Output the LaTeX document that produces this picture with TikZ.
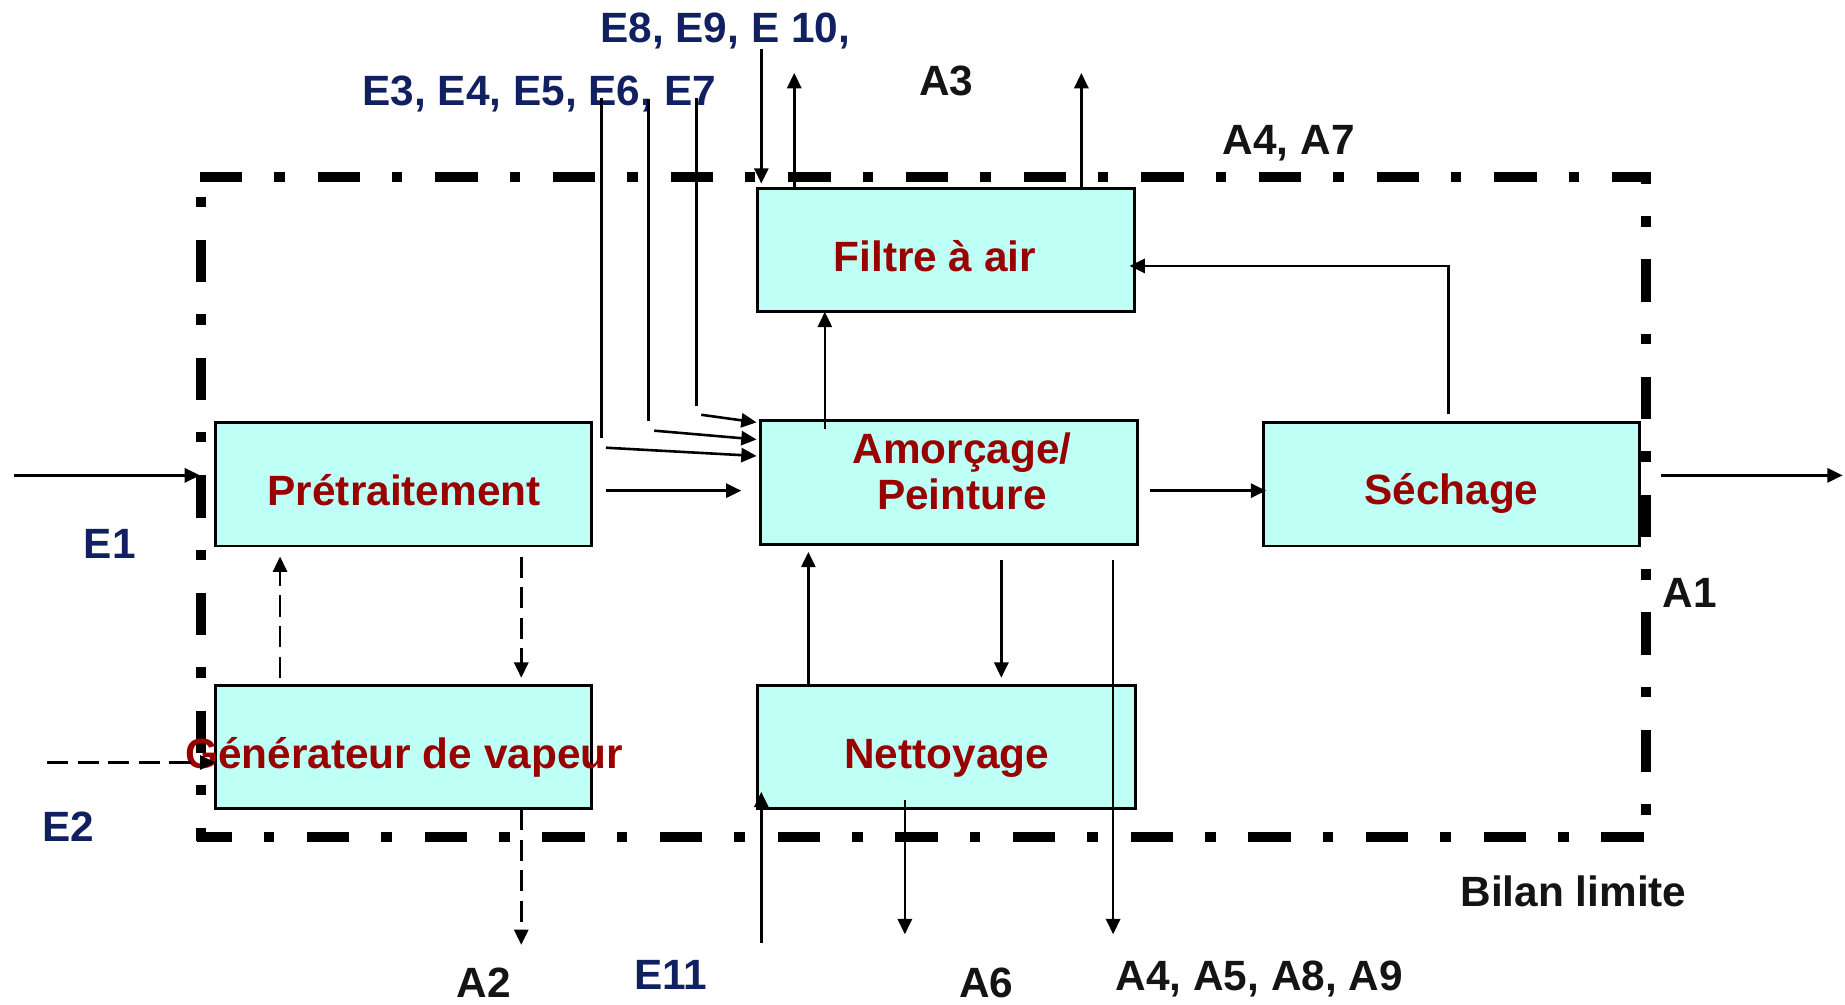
\documentclass[tikz,border=0pt]{standalone}
\usepackage{fontspec}
\setmainfont{Liberation Sans}
\usetikzlibrary{arrows.meta}
\definecolor{boxfill}{RGB}{190,255,246}
\definecolor{boxred}{RGB}{153,0,0}
\definecolor{inblue}{RGB}{16,32,96}
\definecolor{outblack}{RGB}{20,20,20}

\begin{document}
\begin{tikzpicture}[x=1pt,y=-1pt,
  font=\fontsize{36}{39.2}\selectfont\bfseries,
  box/.style={draw=black, line width=2.5pt, fill=boxfill, rectangle,
    minimum width=320pt, minimum height=105pt, inner sep=0pt, outer sep=0pt},
  boxtext/.style={text=boxred, anchor=base, inner sep=0pt, align=center},
  inlabel/.style={text=inblue, anchor=base west, inner sep=0pt},
  outlabel/.style={text=outblack, anchor=base west, inner sep=0pt},
  limit/.style={line width=8.5pt, dash pattern=on 36pt off 27pt on 9pt off 28pt},
  flowline/.style={line width=2.2pt},
  flow/.style={flowline, -{Triangle[length=13pt,width=12pt]}},
  dflow/.style={flow, dash pattern=on 18pt off 8pt},
]
\useasboundingbox (0,0) rectangle (1568,854);

% system boundary (dash-dot frame), one side at a time
\draw[limit, dash phase=97pt]   (167,150) -- (1403,150);
\draw[limit, dash phase=25.5pt] (1399,146) -- (1399,715);
\draw[limit, dash phase=6pt]    (167,711) -- (1403,711);
\draw[limit, dash phase=42pt]   (171,146) -- (171,715);

% process boxes
\node[box] (filtre) at (804,212.5) {};
\node[box] (pret) at (343,411.5) {};
\node[box, minimum width=321pt] (amor) at (806.5,410) {};
\node[box] (sech) at (1233.5,411.5) {};
\node[box] (gen) at (343,635) {};
\node[box, minimum width=321pt] (nett) at (804.5,635) {};

\node[boxtext] (filtre-t) at (794.5,231) {Filtre à air};
\node[boxtext] (pret-t) at (343.5,429.5) {Prétraitement};
\node[boxtext] (amor-t) at (817.5,433) {Amorçage/\\Peinture};
\node[boxtext] (sech-t) at (1233.5,429) {Séchage};
\node[boxtext] (gen-t) at (343.5,653) {Générateur de vapeur};
\node[boxtext] (nett-t) at (804.5,653) {Nettoyage};

% inputs and outputs
\node[inlabel] (l-e8) at (510,36) {E8, E9, E 10,};
\node[inlabel] (l-e3) at (308,90) {E3, E4, E5, E6, E7};
\node[outlabel] (l-a3) at (781,81.5) {A3};
\node[outlabel] (l-a4a7) at (1039,131) {A4, A7};
\node[inlabel] (l-e1) at (71,475) {E1};
\node[outlabel] (l-a1) at (1413,516) {A1};
\node[inlabel] (l-e2) at (36,715) {E2};
\node[outlabel] (l-bilan) at (1241,770) {Bilan limite};
\node[outlabel] (l-a2) at (388,848) {A2};
\node[inlabel] (l-e11) at (539,841) {E11};
\node[outlabel] (l-a6) at (815,848) {A6};
\node[outlabel] (l-a4a9) at (948,842) {A4, A5, A8, A9};

% free ends of the flows
\coordinate (e1-s) at (12,404);     \coordinate (e1-e) at (170,404);
\coordinate (e2-s) at (40,648);
\coordinate (pa-s) at (515,417);    \coordinate (pa-e) at (630,417);
\coordinate (e3-top) at (511,83);   \coordinate (e3-bot) at (511,372);
\coordinate (e3-s) at (515,380.5);  \coordinate (e3-e) at (643,387.5);
\coordinate (e5-top) at (551,84);   \coordinate (e5-bot) at (551,358);
\coordinate (e5-s) at (556,366);    \coordinate (e5-e) at (643,373.5);
\coordinate (e7-top) at (592,83);   \coordinate (e7-bot) at (592,345);
\coordinate (e7-s) at (596,352.5);  \coordinate (e7-e) at (643,359);
\coordinate (e8-s) at (647,42);     \coordinate (e8-e) at (647,156);
\coordinate (a3a-e) at (675,62);    \coordinate (a3b-e) at (919,62);
\coordinate (af-s) at (701,365);
\coordinate (sf-s) at (1231,352);   \coordinate (sf-e) at (960,226);
\coordinate (as-s) at (977,417);    \coordinate (as-e) at (1076,417);
\coordinate (a1-s) at (1412,404);   \coordinate (a1-e) at (1566,404);
\coordinate (pg-s) at (443,473);    \coordinate (pg-e) at (443,576);
\coordinate (gp-s) at (238,576);    \coordinate (gp-e) at (238,473);
\coordinate (a2-e) at (443,803);
\coordinate (na-x) at (687,0);      \coordinate (na-e) at (687,469);
\coordinate (an-s) at (851,476);    \coordinate (an-e) at (851,576);
\coordinate (a4-s) at (946,476);    \coordinate (a4-e) at (946,794);
\coordinate (e11-s) at (647,801);   \coordinate (e11-e) at (647,673);
\coordinate (a6-s) at (769,680);    \coordinate (a6-e) at (769,794);

% flows
\draw[flow] (e1-s) -- (e1-e);
\draw[dflow] (e2-s) -- (e2-s -| gen.west);
\draw[flow] (pa-s) -- (pa-e);
\draw[flowline] (e3-top) -- (e3-bot);
\draw[flow] (e3-s) -- (e3-e);
\draw[flowline] (e5-top) -- (e5-bot);
\draw[flow] (e5-s) -- (e5-e);
\draw[flowline] (e7-top) -- (e7-bot);
\draw[flow] (e7-s) -- (e7-e);
\draw[flow] (e8-s) -- (e8-e);
\draw[flow] (a3a-e |- filtre.north) -- (a3a-e);
\draw[flow] (a3b-e |- filtre.north) -- (a3b-e);
\draw[flow] (af-s) -- (af-s |- filtre.south);
\draw[flow] (sf-s) |- (sf-e);
\draw[flow] (as-s) -- (as-e);
\draw[flow] (a1-s) -- (a1-e);
\draw[dflow] (pg-s) -- (pg-e);
\draw[dflow] (gp-s) -- (gp-e);
\draw[dflow] (a2-e |- gen.south) -- (a2-e);
\draw[flow] (na-x |- nett.north) -- (na-e);
\draw[flow] (an-s) -- (an-e);
\draw[flow] (a4-s) -- (a4-e);
\draw[flow] (e11-s) -- (e11-e);
\draw[flow] (a6-s) -- (a6-e);
\end{tikzpicture}
\end{document}
